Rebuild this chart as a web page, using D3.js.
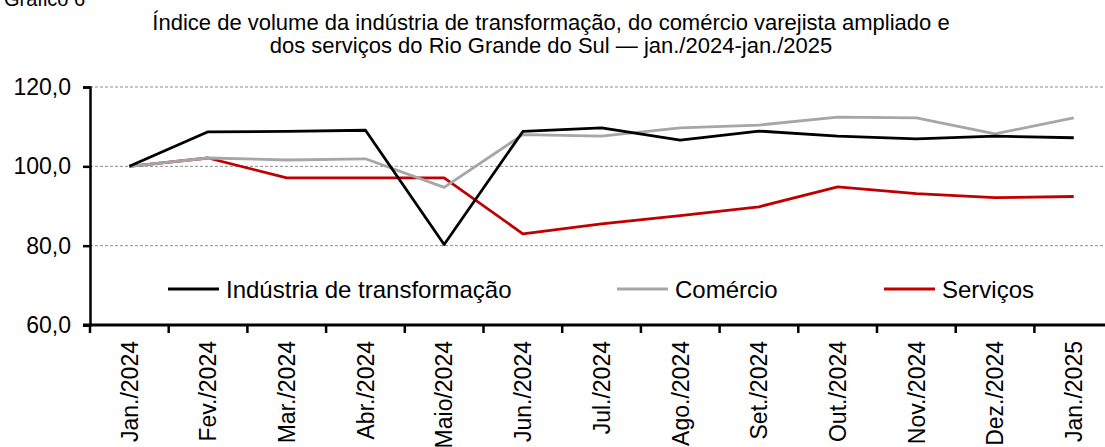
<!DOCTYPE html>
<html>
<head>
<meta charset="utf-8">
<script src="https://cdn.jsdelivr.net/npm/d3@7"></script>
<style>
  body { margin: 0; background: #fff; }
  svg { display: block; font-family: Arial, "Liberation Sans", sans-serif; }
</style>
</head>
<body>
<svg id="chart" width="1105" height="447"></svg>
<script>
// dados
var meses = ["Jan./2024", "Fev./2024", "Mar./2024", "Abr./2024", "Maio/2024", "Jun./2024",
  "Jul./2024", "Ago./2024", "Set./2024", "Out./2024", "Nov./2024", "Dez./2024", "Jan./2025"];
var industria = [100.0, 108.7, 108.8, 109.1, 80.3, 108.8, 109.7, 106.6, 108.9, 107.6, 106.9, 107.6, 107.2];
var comercio = [100.0, 102.1, 101.6, 101.9, 94.7, 108.0, 107.6, 109.7, 110.4, 112.4, 112.2, 108.2, 112.2];
var servicos = [100.0, 102.1, 97.1, 97.1, 97.1, 83.0, 85.5, 87.6, 89.8, 94.8, 93.1, 92.1, 92.4];
var yTicks = [60, 80, 100, 120];
var nomes = ["Indústria de transformação", "Comércio", "Serviços"];
var cores = ["#000000", "#a6a6a6", "#c00000"];

var svg = d3.select("#chart");
var margemEsq = 90, margemSup = 87, margemInf = 325;
var step = 78.7;

var x = d3.scaleBand()
    .domain(meses)
    .range([margemEsq, margemEsq + step * meses.length]);

var y = d3.scaleLinear()
    .domain([60, 120])
    .range([margemInf, margemSup]);

// título
svg.append("text")
    .attr("x", 4).attr("y", 6)
    .attr("font-size", "20px")
    .text("Gráfico 6");

var titulo = ["Índice de volume da indústria de transformação, do comércio varejista ampliado e",
  "dos serviços do Rio Grande do Sul — jan./2024-jan./2025"];
svg.selectAll(".titulo")
    .data(titulo)
    .enter()
    .append("text")
    .attr("class", "titulo")
    .attr("x", 551)
    .attr("y", function(d, i) { return 30 + i * 23; })
    .attr("text-anchor", "middle")
    .attr("font-size", "22px")
    .text(function(d) { return d; });

// linhas de grade
svg.selectAll(".grid")
    .data(yTicks.slice(1))
    .enter()
    .append("line")
    .attr("x1", margemEsq).attr("x2", 1105)
    .attr("y1", function(d) { return y(d); })
    .attr("y2", function(d) { return y(d); })
    .attr("stroke", "#8c8c8c")
    .attr("stroke-width", 1)
    .attr("stroke-dasharray", "3,2");

// eixo y
var yAxis = svg.append("g")
    .attr("transform", "translate(" + margemEsq + ",0)")
    .call(d3.axisLeft(y).tickValues(yTicks).tickSize(7).tickPadding(12)
      .tickFormat(function(d) { return d3.format(".1f")(d).replace(".", ","); }));
yAxis.select(".domain").attr("stroke-width", 2.5);
yAxis.selectAll(".tick line").attr("stroke-width", 2.5);
yAxis.selectAll("text")
    .attr("font-size", "23px")
    .attr("font-family", "Arial, 'Liberation Sans', sans-serif")
    .attr("fill", "#000");

// eixo x
var xAxis = svg.append("g")
    .attr("transform", "translate(0," + margemInf + ")");
xAxis.append("line")
    .attr("x1", margemEsq - 7).attr("x2", 1105)
    .attr("y1", 0).attr("y2", 0)
    .attr("stroke", "#000").attr("stroke-width", 3);
xAxis.selectAll(".xtick")
    .data(meses)
    .enter()
    .append("line")
    .attr("x1", function(d) { return x(d); })
    .attr("x2", function(d) { return x(d); })
    .attr("y1", 0).attr("y2", 8)
    .attr("stroke", "#000").attr("stroke-width", 2.5);
xAxis.selectAll(".xlabel")
    .data(meses)
    .enter()
    .append("text")
    .attr("transform", function(d) {
      return "translate(" + (x(d) + x.bandwidth() / 2) + ",16) rotate(-90)";
    })
    .attr("dy", "0.36em")
    .attr("text-anchor", "end")
    .attr("font-size", "23px")
    .text(function(d) { return d; });

// séries
var series = [industria, comercio, servicos];
var line = d3.line()
    .x(function(d, i) { return x(meses[i]) + x.bandwidth() / 2; })
    .y(function(d) { return y(d); });

// ordem de desenho: serviços, comércio, indústria por cima
[2, 1, 0].forEach(function(k) {
  svg.append("path")
      .datum(series[k])
      .attr("d", line)
      .attr("fill", "none")
      .attr("stroke", cores[k])
      .attr("stroke-width", 2.8)
      .attr("stroke-linejoin", "round");
});

// legenda
var legX = [168, 617, 884];
var leg = svg.selectAll(".leg")
    .data(nomes)
    .enter()
    .append("g")
    .attr("transform", function(d, i) { return "translate(" + legX[i] + ",289)"; });
leg.append("line")
    .attr("x1", 0).attr("x2", 51)
    .attr("stroke", function(d, i) { return cores[i]; })
    .attr("stroke-width", 2.8);
leg.append("text")
    .attr("x", 58)
    .attr("dy", "0.36em")
    .attr("font-size", "24px")
    .text(function(d) { return d; });
</script>
</body>
</html>
